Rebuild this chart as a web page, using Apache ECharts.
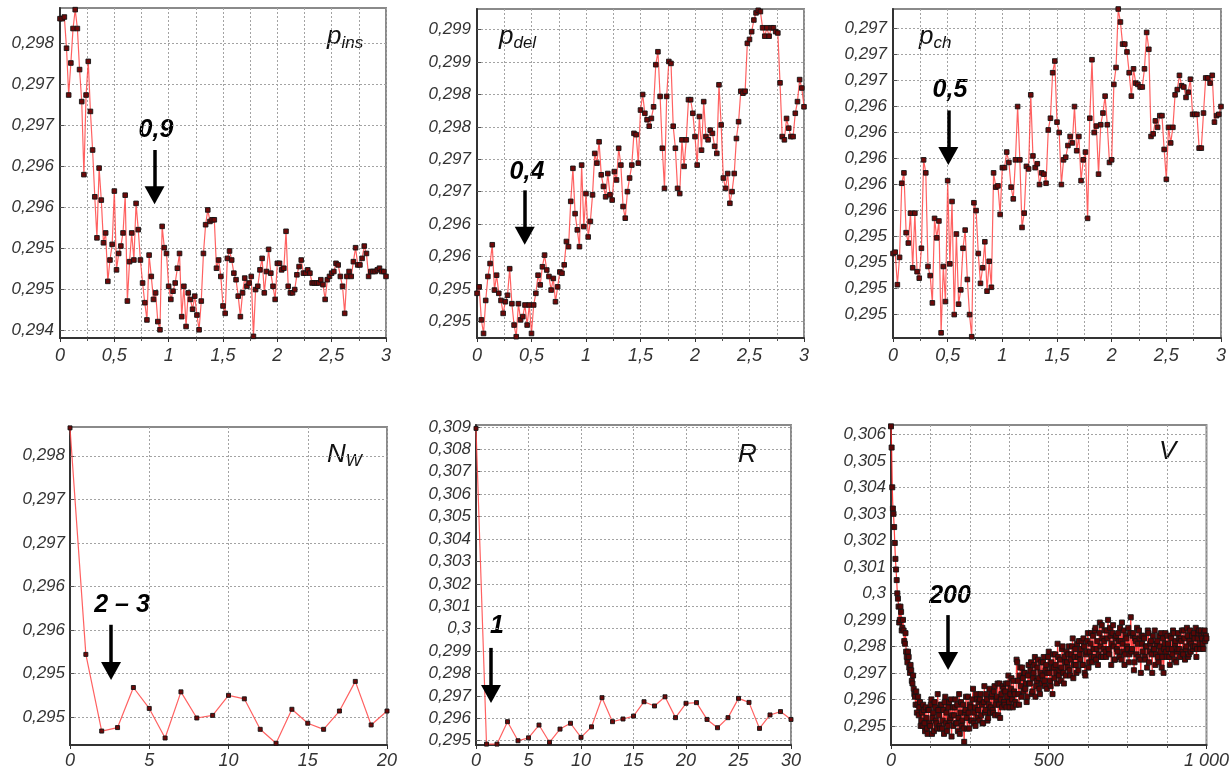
<!DOCTYPE html>
<html>
<head>
<meta charset="utf-8">
<script src="https://cdn.jsdelivr.net/npm/echarts@6/dist/echarts.min.js"></script>
<style>html,body{margin:0;padding:0;background:#fff}#c{width:1232px;height:771px}</style>
</head>
<body>
<div id="c"></div>
<script>
// ---------- DATA ----------
const pStep = 0.02;
const pIns = [0.2983,0.2983,0.29832,0.29794,0.29737,0.29776,0.29818,0.29841,0.29818,0.29768,
0.29729,0.2964,0.29737,0.29778,0.29717,0.2967,0.29613,0.29563,0.29648,0.29609,
0.29557,0.29569,0.2951,0.29536,0.29555,0.2962,0.29524,0.29544,0.29553,0.29569,
0.29615,0.29486,0.29534,0.29569,0.29536,0.29605,0.29573,0.29536,0.29508,0.29484,
0.29463,0.29542,0.29516,0.29488,0.29496,0.29461,0.29451,0.29577,0.29551,0.29544,
0.29504,0.29488,0.29498,0.29508,0.29526,0.29544,0.29467,0.29504,0.29455,0.29496,
0.29488,0.29476,0.29492,0.29469,0.29451,0.29486,0.29544,0.29579,0.29597,0.29583,
0.29585,0.29585,0.29526,0.29536,0.29516,0.2948,0.29471,0.29538,0.29547,0.29536,
0.2952,0.29512,0.29492,0.29467,0.29496,0.29514,0.29504,0.29508,0.29516,0.29443,
0.295,0.29504,0.29524,0.29538,0.29496,0.29522,0.29549,0.2952,0.29504,0.29488,
0.29532,0.29532,0.29524,0.29526,0.29571,0.29504,0.29496,0.29496,0.295,0.29518,
0.29528,0.29536,0.2952,0.2952,0.29524,0.2952,0.29508,0.29508,0.29508,0.29508,
0.29512,0.29506,0.29488,0.29512,0.29516,0.2952,0.29522,0.29532,0.2953,0.29516,
0.29504,0.29471,0.29516,0.29522,0.29516,0.29534,0.29551,0.2953,0.2953,0.29538,
0.29553,0.29544,0.29516,0.29522,0.29522,0.29522,0.29524,0.29526,0.29522,0.29522,0.29516];

const pDel = [0.29543,0.29553,0.29502,0.29481,0.29532,0.29569,0.29589,0.29618,0.29548,0.29571,
0.29543,0.29532,0.29512,0.2953,0.2954,0.29581,0.29527,0.29494,0.29476,0.29527,
0.29502,0.29507,0.29525,0.29494,0.29525,0.29481,0.29525,0.29543,0.29571,0.29556,
0.29584,0.29602,0.29579,0.29569,0.29548,0.29566,0.2953,0.29553,0.29576,0.29574,
0.29587,0.29623,0.29615,0.29685,0.29736,0.29666,0.29641,0.29615,0.29741,0.29646,
0.29697,0.2963,0.29654,0.29695,0.29759,0.29744,0.29777,0.29726,0.29708,0.29692,
0.29728,0.29695,0.29687,0.29731,0.29718,0.29767,0.29741,0.29677,0.29659,0.297,
0.29721,0.29741,0.2979,0.29788,0.29744,0.29826,0.2985,0.29821,0.29811,0.29801,
0.29813,0.29831,0.29896,0.29916,0.29847,0.29767,0.29705,0.29847,0.29901,0.29898,
0.29801,0.29767,0.29705,0.29697,0.2978,0.29739,0.2978,0.29842,0.29842,0.29821,
0.29785,0.29741,0.29816,0.29764,0.29839,0.29785,0.2978,0.29795,0.2979,0.2977,
0.29759,0.29865,0.29803,0.29721,0.29705,0.29728,0.29682,0.297,0.29728,0.29782,
0.29808,0.29855,0.29852,0.29855,0.29929,0.29935,0.29947,0.29965,0.29976,0.2998,
0.29978,0.29953,0.2994,0.29953,0.2994,0.29953,0.29953,0.29947,0.29945,0.29868,
0.29785,0.2978,0.29813,0.29798,0.29785,0.29785,0.29821,0.29839,0.29873,0.2986,0.29831];

const pCh = [0.29567,0.29568,0.29543,0.29564,0.29621,0.29629,0.29583,0.29575,0.29598,0.29556,
0.29598,0.29553,0.29548,0.29571,0.29639,0.29629,0.29557,0.2955,0.29529,0.29594,
0.29579,0.29592,0.29506,0.29557,0.2953,0.29623,0.29559,0.29607,0.2952,0.29582,
0.29528,0.29539,0.29571,0.29585,0.29547,0.2952,0.29503,0.29606,0.296,0.29567,
0.29544,0.29556,0.29576,0.29538,0.29561,0.29541,0.29629,0.29618,0.29619,0.29597,
0.29633,0.29633,0.29645,0.29637,0.29618,0.29609,0.29639,0.2968,0.29639,0.29587,
0.29598,0.29634,0.29632,0.29689,0.29642,0.29633,0.29636,0.2962,0.29629,0.29628,
0.29621,0.29662,0.29671,0.29706,0.29715,0.29668,0.2966,0.2962,0.29639,0.29641,
0.2965,0.29657,0.29652,0.2968,0.29646,0.29657,0.29623,0.29639,0.29645,0.29594,
0.29671,0.29716,0.2966,0.29665,0.29628,0.29666,0.29675,0.29688,0.29666,0.29637,
0.29639,0.29697,0.2971,0.29755,0.29745,0.29728,0.29728,0.29722,0.29706,0.29688,
0.29709,0.29698,0.29697,0.29695,0.29695,0.29709,0.29737,0.29724,0.29657,0.29659,
0.29669,0.29664,0.29673,0.29673,0.29647,0.29624,0.29664,0.29652,0.29664,0.29689,
0.29693,0.29704,0.29696,0.29695,0.29687,0.29691,0.29701,0.29674,0.29674,0.29674,
0.29648,0.29648,0.29675,0.29702,0.29702,0.29698,0.29704,0.29668,0.29673,0.29674,0.2968];

const nwY = [0.29832,0.29572,0.29484,0.29488,0.29534,0.2951,0.29476,0.29529,0.29499,0.29502,
0.29525,0.29521,0.29486,0.2947,0.29509,0.29493,0.29486,0.29507,0.29541,0.29491,0.29507];

const rY = [0.30893,0.29485,0.29485,0.29585,0.295,0.29513,0.2957,0.29493,0.29552,0.29578,
0.29515,0.29562,0.29692,0.29585,0.29597,0.2961,0.29674,0.29655,0.29696,0.29603,
0.29667,0.2967,0.29595,0.29558,0.29603,0.29689,0.29671,0.29555,0.29615,0.2963,0.29595];

// V: values at x = 0,4,8,...,1000 and at x = 2,6,10,...,998
const vStep = 4;
const vY = [0.3063,0.304,0.303,0.3019,0.3009,0.3,0.2995,0.299,0.2993,0.2987,
0.2986,0.2981,0.2978,0.2974,0.2976,0.297,0.2971,0.2966,0.2964,0.2961,
0.2963,0.2958,0.2954,0.2959,0.2952,0.295,0.2956,0.2948,0.2953,0.2947,
0.2956,0.295,0.296,0.2953,0.2948,0.2957,0.2951,0.2962,0.2954,0.2949,
0.2958,0.2952,0.2947,0.2961,0.2955,0.295,0.2959,0.2953,0.2946,0.2957,
0.2954,0.296,0.2951,0.2948,0.2962,0.2955,0.295,0.2958,0.2944,0.2956,
0.2953,0.2961,0.2949,0.2957,0.2952,0.2964,0.2955,0.295,0.296,0.2956,
0.2952,0.2962,0.2958,0.2951,0.2965,0.2956,0.296,0.2953,0.2964,0.2957,
0.2962,0.2955,0.2965,0.2958,0.2961,0.2954,0.2966,0.296,0.2957,0.2964,
0.2958,0.2966,0.2961,0.2969,0.2957,0.2964,0.296,0.2967,0.2962,0.2958,
0.2974,0.2962,0.2969,0.2965,0.2972,0.2963,0.297,0.2966,0.2961,0.2973,
0.2966,0.2974,0.2963,0.297,0.2976,0.2965,0.2972,0.2968,0.2962,0.2974,
0.2969,0.2976,0.2965,0.2973,0.297,0.2978,0.2967,0.2974,0.2962,0.2972,
0.2977,0.297,0.2981,0.2969,0.2975,0.2972,0.298,0.2966,0.2974,0.2978,
0.2972,0.298,0.2969,0.2977,0.2983,0.2973,0.2979,0.297,0.2976,0.2982,
0.2975,0.2982,0.2973,0.298,0.2969,0.2978,0.2985,0.2974,0.2981,0.2976,
0.2984,0.2976,0.2987,0.2979,0.2973,0.2985,0.298,0.2988,0.2976,0.2982,
0.2978,0.2986,0.299,0.2977,0.2984,0.2981,0.2988,0.2975,0.2983,0.2979,
0.2985,0.2976,0.2982,0.2989,0.2978,0.2973,0.2984,0.298,0.2987,0.2977,
0.2991,0.2979,0.2985,0.2974,0.2982,0.2987,0.2976,0.2983,0.297,0.2981,
0.2984,0.2976,0.298,0.2972,0.2985,0.2978,0.2982,0.297,0.2979,0.2986,
0.2977,0.2982,0.2974,0.298,0.2985,0.2976,0.297,0.2981,0.2978,0.2984,
0.2979,0.2973,0.2983,0.2977,0.2985,0.2981,0.2974,0.2979,0.2983,0.2976,
0.2982,0.2978,0.2986,0.2975,0.298,0.2984,0.2977,0.2986,0.2981,0.2979,
0.2985,0.298,0.2976,0.2983,0.2986,0.2979,0.2984,0.2981,0.2985,0.2982,0.2983];
const vMid = [0.3055,0.3032,0.3025,0.3013,0.3005,0.2998,0.2989,0.2995,0.2986,0.299,
0.2982,0.2985,0.2976,0.2978,0.2972,0.2973,0.2967,0.2969,0.2962,0.2958,
0.2955,0.2961,0.2957,0.295,0.2955,0.2958,0.2951,0.2957,0.2949,0.2956,
0.2951,0.2958,0.2947,0.2955,0.2959,0.2952,0.2949,0.2956,0.295,0.2958,
0.2949,0.2956,0.2959,0.2951,0.2948,0.2957,0.2952,0.296,0.2954,0.295,
0.2957,0.2951,0.2958,0.2953,0.2947,0.2959,0.2952,0.2949,0.2955,0.2961,
0.2949,0.2955,0.2958,0.2952,0.296,0.2951,0.2957,0.2962,0.2953,0.2959,
0.296,0.2954,0.2951,0.2959,0.2955,0.2962,0.2952,0.2958,0.2955,0.2961,
0.2956,0.2963,0.2954,0.296,0.2966,0.2958,0.2953,0.2962,0.2965,0.2959,
0.2963,0.2957,0.2966,0.2959,0.2962,0.2968,0.2957,0.2963,0.2959,0.2975,
0.2967,0.2958,0.2972,0.2961,0.2968,0.297,0.2964,0.2959,0.2969,0.2966,
0.2971,0.2962,0.2968,0.2973,0.2961,0.2967,0.2975,0.2964,0.297,0.2966,
0.2974,0.2967,0.2971,0.2964,0.2976,0.297,0.2965,0.2972,0.2977,0.2968,
0.2973,0.2966,0.2976,0.2971,0.2967,0.2979,0.297,0.2976,0.2969,0.2974,
0.2977,0.2971,0.2975,0.298,0.2968,0.2976,0.2973,0.2981,0.2971,0.2977,
0.2979,0.2973,0.2983,0.297,0.2977,0.2982,0.2972,0.2978,0.2985,0.2974,
0.2979,0.2986,0.2975,0.2982,0.2977,0.2989,0.2976,0.2983,0.2979,0.2986,
0.2976,0.2983,0.2979,0.2987,0.2973,0.2985,0.298,0.2975,0.2984,0.2978,
0.2982,0.2987,0.2975,0.2981,0.2986,0.2977,0.2983,0.2979,0.2974,0.2985,
0.2978,0.2984,0.2971,0.2983,0.2977,0.2981,0.2986,0.2975,0.2984,0.2978,
0.2983,0.2975,0.298,0.2986,0.2974,0.2981,0.2977,0.2984,0.2979,0.2973,
0.2981,0.2976,0.2984,0.2978,0.2972,0.2983,0.2979,0.2985,0.2976,0.2981,
0.2976,0.2984,0.2979,0.2986,0.2975,0.2982,0.2978,0.2985,0.2979,0.2983,
0.2986,0.2977,0.2983,0.2979,0.2987,0.2976,0.2982,0.2978,0.2984,0.298,
0.2983,0.2987,0.2979,0.2985,0.2981,0.2986,0.2983,0.2979,0.2986,0.2984];

// axis ranges and tick values
const yRanges = [[0.29441,0.29843],[0.29474,0.29982],[0.29502,0.29755],[0.29468,0.29833],[0.29481,0.30908],[0.29428,0.30635]];
const yTicks = [
  [0.2945,0.295,0.2955,0.296,0.2965,0.297,0.2975,0.298],
  [0.295,0.2955,0.296,0.2965,0.297,0.2975,0.298,0.2985,0.299,0.2995],
  [0.2952,0.2954,0.2956,0.2958,0.296,0.2962,0.2964,0.2966,0.2968,0.297,0.2972,0.2974],
  [0.295,0.2955,0.296,0.2965,0.297,0.2975,0.298],
  [0.295,0.296,0.297,0.298,0.299,0.3,0.301,0.302,0.303,0.304,0.305,0.306,0.307,0.308,0.309],
  [0.295,0.296,0.297,0.298,0.299,0.3,0.301,0.302,0.303,0.304,0.305,0.306]
];
const xMax = [3,3,3,20,30,1000];
const xInterval = [0.5,0.5,0.5,5,5,500];
const xMinorSplit = [2,2,2,0,0,4];
// arrows: [x, shaft top value, arrow end value]
const arrows = [[0.87,0.2967,0.29615],[0.438,0.29702,0.29632],[0.506,0.29677,0.29642],[2.59,0.29606,0.29553],[1.43,0.29914,0.29708],[181,0.29918,0.29745]];
const annotations = ['0,9','0,4','0,5','2 \u2013 3','1','200'];
const panelNames = [['p','ins'],['p','del'],['p','ch'],['N','W'],['R',''],['V','']];

// ---------- BUILD ----------
const FONT = '"Liberation Sans", Arial, sans-serif';
const grids = [
  {left:60, top:8, width:326, height:330},
  {left:477, top:9, width:327, height:329},
  {left:893, top:9, width:328, height:329},
  {left:70, top:427, width:317, height:318},
  {left:476, top:425, width:315, height:320},
  {left:891, top:425, width:316, height:320}
];
const dotted = {color:'#a3a3a3', width:1, type:[2,2]};
function fmtY(v){ const t = Math.floor(v*1000 + 1e-6)/1000; return String(t).replace('.', ','); }
function fmtX(v){ return String(v).replace('.', ',').replace(/\B(?=(\d{3})+(?!\d))/g, ' '); }

const vData = [];
vY.forEach((v,i)=>{
  vData.push([i*vStep, v]);
  if (i < vMid.length) vData.push([i*vStep + vStep/2, vMid[i]]);
});

const seriesData = [
  pIns.map((v,i)=>[+(i*pStep).toFixed(2), v]),
  pDel.map((v,i)=>[+(i*pStep).toFixed(2), v]),
  pCh.map((v,i)=>[+(i*pStep).toFixed(2), v]),
  nwY.map((v,i)=>[i, v]),
  rY.map((v,i)=>[i, v]),
  vData
];
const symSize = [4.6,4.6,4.6,4,4,5];

const option = {
  backgroundColor:'#fff',
  animation:false,
  grid: grids.map(g=>Object.assign({show:true, borderColor:'#8a8a8a', borderWidth:2, backgroundColor:'rgba(0,0,0,0)'}, g)),
  xAxis: grids.map((g,i)=>({
    type:'value', gridIndex:i, min:0, max:xMax[i], interval:xInterval[i],
    axisLine:{show:true, onZero:false, lineStyle:{color:'#333', width:2}},
    axisTick:{show:true, length:4, lineStyle:{color:'#333'}},
    minorTick:{show:xMinorSplit[i]>0, splitNumber:xMinorSplit[i]||5, length:3, lineStyle:{color:'#555'}},
    splitLine:{show:true, lineStyle:dotted},
    minorSplitLine:{show:xMinorSplit[i]>0, lineStyle:dotted},
    axisLabel:{formatter:fmtX, fontSize:18, fontStyle:'italic', color:'#333', fontFamily:FONT, margin: i<3?9:7}
  })),
  yAxis: grids.map((g,i)=>({
    type:'value', gridIndex:i, min:yRanges[i][0], max:yRanges[i][1],
    axisLine:{show:true, onZero:false, lineStyle:{color:'#333', width:2}},
    axisTick:{show:true, inside:true, length:4, customValues:yTicks[i], lineStyle:{color:'#555'}},
    splitLine:{show:true, lineStyle:dotted},
    axisLabel:{customValues:yTicks[i], formatter:fmtY, fontSize:17, fontStyle:'italic', color:'#333', fontFamily:FONT, margin: i<3?6:5}
  })),
  series: seriesData.map((d,i)=>({
    type:'line', xAxisIndex:i, yAxisIndex:i, data:d,
    symbol:'rect', symbolSize: symSize[i], showSymbol:true,
    lineStyle:{color: i===5 ? '#ff1a1a' : '#ff4545', width: i===5 ? 1.2 : 1.2, opacity:0.85},
    itemStyle:{color: i===5 ? '#5a0606' : '#6e0909', borderColor:'#141414', borderWidth:0.9},
    emphasis:{disabled:true}, silent:true,
    markLine:{
      silent:true, symbol:['none','triangle'], symbolSize:[20,18],
      lineStyle:{color:'#000', width:3.5, type:'solid'},
      label:{show:false}, emphasis:{disabled:true},
      data:[[{coord:[arrows[i][0], arrows[i][1]]},{coord:[arrows[i][0], arrows[i][2]]}]]
    }
  })),
  graphic: []
};

const titlePos = [[327,22],[499,22],[919,22],[327,440],[738,440],[1159,437]];
const annPos = [[156,130],[527,172],[950,90],[122,605],[497,626],[950,596]];
panelNames.forEach((n,i)=>{
  option.graphic.push({
    type:'text', x:titlePos[i][0], y:titlePos[i][1], silent:true,
    style:{
      text: n[1] ? '{m|'+n[0]+'}{s|'+n[1]+'}' : '{m|'+n[0]+'}',
      textVerticalAlign:'top', textAlign:'left',
      rich:{
        m:{fontSize:26, lineHeight:30, fontStyle:'italic', fontFamily:FONT, fill:'#111'},
        s:{fontSize:17, lineHeight:20, verticalAlign:'bottom', fontStyle:'italic', fontFamily:FONT, fill:'#111'}
      }
    }
  });
  option.graphic.push({
    type:'text', x:annPos[i][0], y:annPos[i][1], silent:true,
    style:{text:annotations[i], fontSize:25, fontWeight:'bold', fontStyle:'italic', fontFamily:FONT, fill:'#000', textAlign:'center', textVerticalAlign:'middle'}
  });
});

const chart = echarts.init(document.getElementById('c'), null, {renderer:'canvas'});
chart.setOption(option);
</script>
</body>
</html>
